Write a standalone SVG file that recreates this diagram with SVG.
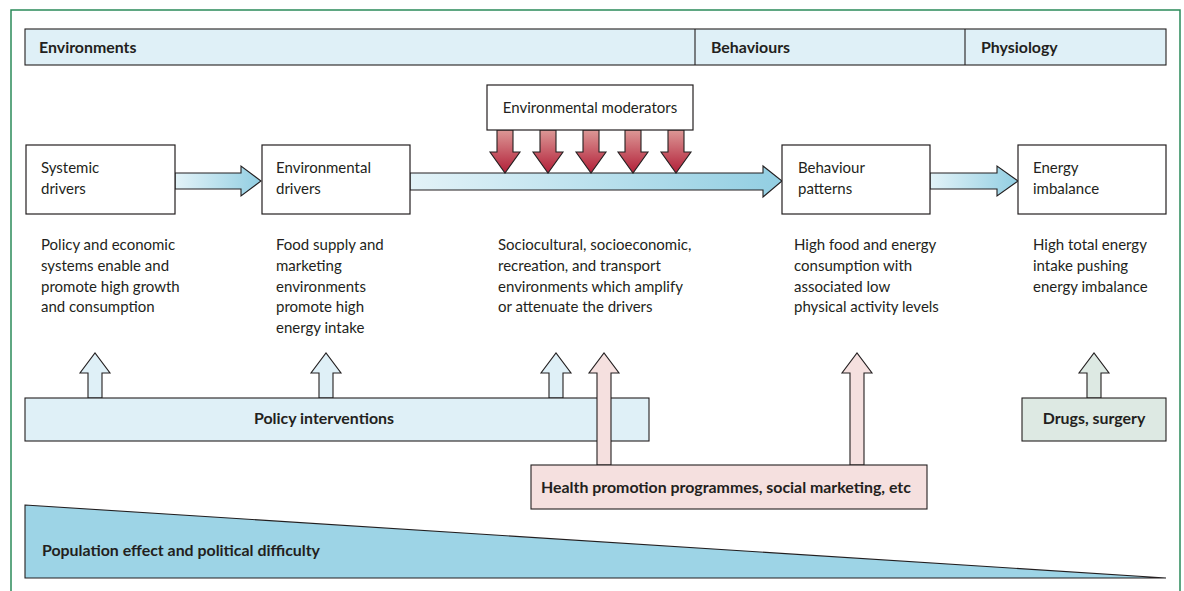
<svg xmlns="http://www.w3.org/2000/svg" width="1184" height="591" viewBox="0 0 1184 591">
<style>
text{font-family:Lato,"Open Sans","Liberation Sans",sans-serif;fill:#231f20}
.t{font-size:15px}
.b{font-size:15.9px;font-weight:bold}
.box{fill:#fff;stroke:#231f20;stroke-width:1.2}
.ln{stroke:#231f20;stroke-width:1.1}
</style>
<defs>
<linearGradient id="gb" x1="0" y1="0" x2="1" y2="0"><stop offset="0" stop-color="#e3f3f8"/><stop offset="1" stop-color="#92cee2"/></linearGradient>
<linearGradient id="gr" x1="0" y1="0" x2="0" y2="1"><stop offset="0" stop-color="#dc9896"/><stop offset="1" stop-color="#b21f38"/></linearGradient>
</defs>
<rect width="1184" height="591" fill="#fff"/>
<path d="M11,600 V10 H1180 V600" fill="none" stroke="#2b8a5a" stroke-width="1.5"/>
<g id="header">
<rect x="25" y="29" width="1141" height="36" fill="#dff0f7" class="ln"/>
<line x1="695" y1="29" x2="695" y2="65" class="ln"/>
<line x1="965" y1="29" x2="965" y2="65" class="ln"/>
<text x="39" y="53" class="b">Environments</text>
<text x="711" y="53" class="b">Behaviours</text>
<text x="981" y="53" class="b">Physiology</text>
</g>
<g id="connectors">
<polygon points="175,173 241,173 241,166 261,181 241,196 241,189 175,189" fill="url(#gb)" class="ln"/>
<polygon points="410,173 763,173 763,166 782,181 763,197 763,190 410,190" fill="url(#gb)" class="ln"/>
<polygon points="930,173 997,173 997,166 1018,181 997,196 997,189 930,189" fill="url(#gb)" class="ln"/>
<g fill="url(#gr)" class="ln">
<polygon points="497,130 513,130 513,152 520,152 505,173 490,152 497,152"/>
<polygon points="540,130 556,130 556,152 563,152 548,173 533,152 540,152"/>
<polygon points="583,130 599,130 599,152 606,152 591,173 576,152 583,152"/>
<polygon points="625,130 641,130 641,152 648,152 633,173 618,152 625,152"/>
<polygon points="668,130 684,130 684,152 691,152 676,173 661,152 668,152"/>
</g>
</g>
<g id="moderators">
<rect x="487" y="85" width="206" height="45" class="box"/>
<text x="590" y="113" class="t" text-anchor="middle">Environmental moderators</text>
</g>
<g id="systemic">
<rect x="26" y="145" width="149" height="69" class="box"/>
<text x="41" y="173" class="t">Systemic</text>
<text x="41" y="194" class="t">drivers</text>
<text x="41" y="250" class="t">Policy and economic</text>
<text x="41" y="271" class="t">systems enable and</text>
<text x="41" y="292" class="t">promote high growth</text>
<text x="41" y="312" class="t">and consumption</text>
</g>
<g id="environmental">
<rect x="262" y="145" width="148" height="69" class="box"/>
<text x="276" y="173" class="t">Environmental</text>
<text x="276" y="194" class="t">drivers</text>
<text x="276" y="250" class="t">Food supply and</text>
<text x="276" y="271" class="t">marketing</text>
<text x="276" y="292" class="t">environments</text>
<text x="276" y="312" class="t">promote high</text>
<text x="276" y="333" class="t">energy intake</text>
</g>
<g id="moderators-text">
<text x="498" y="250" class="t">Sociocultural, socioeconomic,</text>
<text x="498" y="271" class="t">recreation, and transport</text>
<text x="498" y="292" class="t">environments which amplify</text>
<text x="498" y="312" class="t">or attenuate the drivers</text>
</g>
<g id="behaviour">
<rect x="782" y="145" width="148" height="69" class="box"/>
<text x="798" y="173" class="t">Behaviour</text>
<text x="798" y="194" class="t">patterns</text>
<text x="794" y="250" class="t">High food and energy</text>
<text x="794" y="271" class="t">consumption with</text>
<text x="794" y="292" class="t">associated low</text>
<text x="794" y="312" class="t">physical activity levels</text>
</g>
<g id="energy">
<rect x="1018" y="145" width="148" height="69" class="box"/>
<text x="1033" y="173" class="t">Energy</text>
<text x="1033" y="194" class="t">imbalance</text>
<text x="1033" y="250" class="t">High total energy</text>
<text x="1033" y="271" class="t">intake pushing</text>
<text x="1033" y="292" class="t">energy imbalance</text>
</g>
<g id="policy">
<g fill="#dff0f7" class="ln">
<polygon points="88,398 88,373 80,373 95,353 110,373 102,373 102,398"/>
<polygon points="319,398 319,373 311,373 326,353 341,373 333,373 333,398"/>
<polygon points="549,398 549,373 541,373 556,353 571,373 563,373 563,398"/>
</g>
<rect x="25" y="398" width="624" height="43" fill="#dff0f7" class="ln"/>
<text x="324" y="424" class="b" text-anchor="middle">Policy interventions</text>
</g>
<g id="health">
<g fill="#f5e0df" class="ln">
<polygon points="597,465 597,373 589,373 604,353 619,373 611,373 611,465"/>
<polygon points="850,465 850,373 842,373 857,353 872,373 864,373 864,465"/>
</g>
<rect x="531" y="465" width="396" height="44" fill="#f5e0df" class="ln"/>
<text x="541" y="493" class="b">Health promotion programmes, social marketing, etc</text>
</g>
<g id="drugs">
<polygon points="1087,398 1087,373 1079,373 1094,353 1109,373 1101,373 1101,398" fill="#dde9e3" class="ln"/>
<rect x="1022" y="398" width="144" height="43" fill="#dde9e3" class="ln"/>
<text x="1094" y="424" class="b" text-anchor="middle">Drugs, surgery</text>
</g>
<g id="population">
<polygon points="25,505 1166,578 25,578" fill="#9dd4e6" class="ln"/>
<text x="42" y="556" class="b">Population effect and political difficulty</text>
</g>
</svg>
